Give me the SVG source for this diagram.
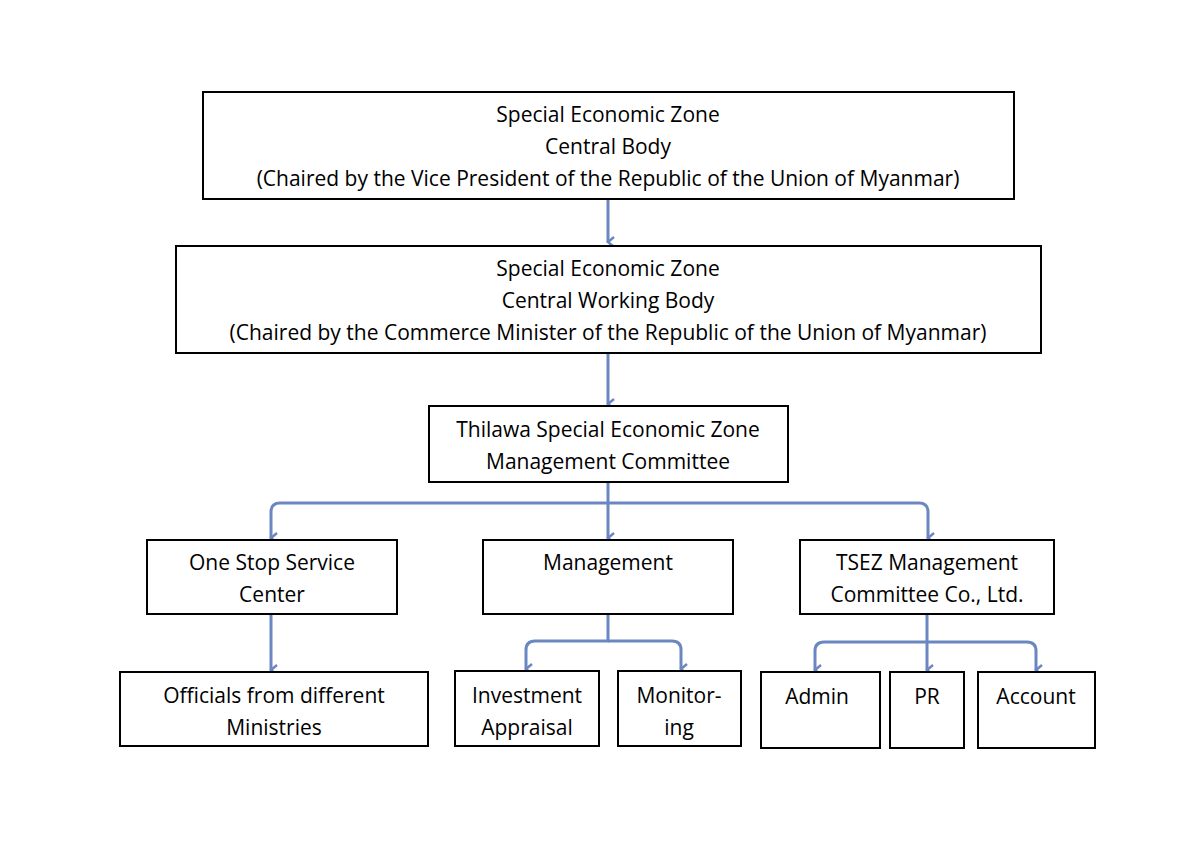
<svg xmlns="http://www.w3.org/2000/svg" width="1200" height="848" viewBox="0 0 1200 848">
<style>
rect{fill:#fff;stroke:#000;stroke-width:2}
text{font-family:"Open Sans","Liberation Sans",sans-serif;font-size:21px;fill:#000;text-anchor:middle}
.c path{fill:none;stroke:#6b87c2;stroke-width:3;stroke-linejoin:round}
</style>
<defs><marker id="a" markerWidth="12" markerHeight="12" refX="6" refY="10" orient="auto" markerUnits="userSpaceOnUse" viewBox="0 0 12 12"><path d="M1,4 L6,10 L11,4" fill="none" stroke="#6b87c2" stroke-width="2.5"/></marker></defs>
<rect width="1200" height="848" style="stroke:none"/>
<g class="c">
<path d="M608,199V242" marker-end="url(#a)"/>
<path d="M608,353V404" marker-end="url(#a)"/>
<path d="M608,482V538" marker-end="url(#a)"/>
<path d="M608,503H280Q271,503 271,512V538" marker-end="url(#a)"/>
<path d="M608,503H919Q928,503 928,512V538" marker-end="url(#a)"/>
<path d="M271,614V670" marker-end="url(#a)"/>
<path d="M608,614V641H535Q526,641 526,650V669" marker-end="url(#a)"/>
<path d="M608,641H672Q681,641 681,650V669" marker-end="url(#a)"/>
<path d="M927,614V670" marker-end="url(#a)"/>
<path d="M927,642H824Q815,642 815,651V670" marker-end="url(#a)"/>
<path d="M927,642H1027Q1036,642 1036,651V670" marker-end="url(#a)"/>
</g>
<g id="n1"><rect x="203" y="92" width="811" height="107"/><text x="608" y="122">Special Economic Zone</text><text x="608" y="154">Central Body</text><text x="608" y="186">(Chaired by the Vice President of the Republic of the Union of Myanmar)</text></g>
<g id="n2"><rect x="176" y="246" width="865" height="107"/><text x="608" y="276">Special Economic Zone</text><text x="608" y="308">Central Working Body</text><text x="608" y="340">(Chaired by the Commerce Minister of the Republic of the Union of Myanmar)</text></g>
<g id="n3"><rect x="429" y="406" width="359" height="76"/><text x="608" y="437">Thilawa Special Economic Zone</text><text x="608" y="469">Management Committee</text></g>
<g id="n4"><rect x="147" y="540" width="250" height="74"/><text x="272" y="570">One Stop Service</text><text x="272" y="602">Center</text></g>
<g id="n5"><rect x="483" y="540" width="250" height="74"/><text x="608" y="570">Management</text></g>
<g id="n6"><rect x="800" y="540" width="254" height="74"/><text x="927" y="570">TSEZ Management</text><text x="927" y="602">Committee Co., Ltd.</text></g>
<g id="n7"><rect x="120" y="672" width="308" height="74"/><text x="274" y="703">Officials from different</text><text x="274" y="735">Ministries</text></g>
<g id="n8"><rect x="455" y="671" width="144" height="75"/><text x="527" y="703">Investment</text><text x="527" y="735">Appraisal</text></g>
<g id="n9"><rect x="618" y="671" width="123" height="75"/><text x="679" y="703">Monitor-</text><text x="679" y="735">ing</text></g>
<g id="n10"><rect x="761" y="672" width="119" height="76"/><text x="817" y="704">Admin</text></g>
<g id="n11"><rect x="890" y="672" width="74" height="76"/><text x="927" y="704">PR</text></g>
<g id="n12"><rect x="978" y="672" width="117" height="76"/><text x="1036" y="704">Account</text></g>
</svg>
